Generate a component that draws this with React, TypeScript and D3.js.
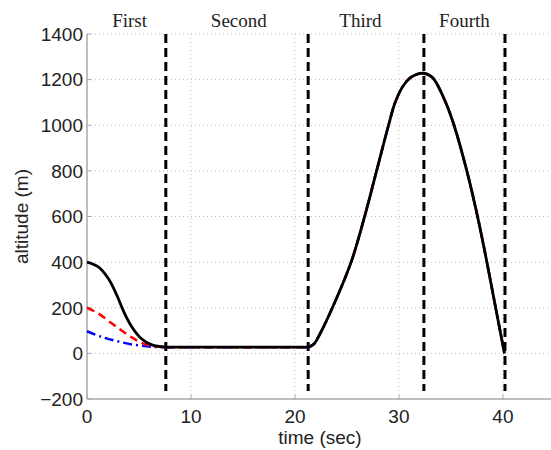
import React from "react";
import * as d3 from "d3";

const W = 551;
const H = 450;

const phaseBounds = [7.58, 21.27, 32.4, 40.2];
const phaseLabels = ["First", "Second", "Third", "Fourth"];
const phaseLabelTimes = [4.1, 14.6, 26.3, 36.3];

const xTicks = [0, 10, 20, 30, 40];
const yTicks = [-200, 0, 200, 400, 600, 800, 1000, 1200, 1400];

// time (sec), altitude (m)
const blackStart: [number, number][] = [
  [0, 400], [1.09, 379], [2.05, 328], [2.86, 256], [3.5, 186], [4.3, 117], [5.27, 63], [6.24, 37], [7.58, 27],
];
const redStart: [number, number][] = [
  [0, 200], [1.09, 175], [2.37, 132], [3.3, 101], [4.3, 70], [5.27, 46], [6.24, 32], [7.58, 27],
];
const blueStart: [number, number][] = [
  [0, 97], [1.41, 72], [3.02, 52], [4.63, 37], [6.24, 29], [7.58, 27],
];
const flat: [number, number][] = [
  [7.58, 27], [21.27, 27],
];
const riseFall: [number, number][] = [
  [21.27, 27], [21.8, 40], [22.4, 85], [23.6, 200], [25.4, 400], [26.7, 600], [27.85, 800], [29.0, 1000],
  [29.6, 1095], [30.3, 1165], [31.0, 1205], [31.7, 1223], [32.35, 1228], [33.0, 1217], [33.4, 1200],
  [34.5, 1100], [35.3, 1000], [36.53, 800], [37.56, 600], [38.46, 400], [39.3, 200], [40.15, 0],
];

export default function App() {
  const x = d3.scaleLinear().domain([0, 45]).range([87, 554.9]);
  const y = d3.scaleLinear().domain([-200, 1400]).range([399, 34]);
  const smooth = d3
    .line<[number, number]>()
    .x((d) => x(d[0]))
    .y((d) => y(d[1]))
    .curve(d3.curveCatmullRom.alpha(0.5));
  const straight = d3
    .line<[number, number]>()
    .x((d) => x(d[0]))
    .y((d) => y(d[1]));
  const pathOf = (start: [number, number][]) =>
    (smooth(start) || "") + (straight(flat) || "") + (smooth(riseFall) || "");
  const fmt = d3.format("d");
  const sans = "'Liberation Sans', Arial, sans-serif";
  const serif = "'Liberation Serif', 'Times New Roman', serif";
  const x0 = x(0);
  const yBot = y(-200);
  const yTop = y(1400);

  return (
    <svg
      width={W}
      height={H}
      style={{ position: "absolute", left: 0, top: 0, background: "#fff" }}
    >
      <rect width={W} height={H} fill="#fff" />
      {/* grid */}
      {yTicks.filter((v) => v > -200).map((v) => (
        <line key={"gy" + v} x1={x0} x2={W} y1={y(v)} y2={y(v)} stroke="#bdbdbd" strokeWidth={1} strokeDasharray="1,3" />
      ))}
      {xTicks.filter((v) => v > 0).map((v) => (
        <line key={"gx" + v} x1={x(v)} x2={x(v)} y1={yTop} y2={yBot} stroke="#bdbdbd" strokeWidth={1} strokeDasharray="1,3" />
      ))}
      {/* axes */}
      <line x1={x0} x2={x0} y1={yTop} y2={yBot} stroke="#a8a8a8" strokeWidth={1.5} />
      <line x1={x0} x2={W} y1={yBot} y2={yBot} stroke="#a8a8a8" strokeWidth={1.5} />
      {yTicks.map((v) => (
        <line key={"ty" + v} x1={x0} x2={x0 + 4} y1={y(v)} y2={y(v)} stroke="#a8a8a8" strokeWidth={1} />
      ))}
      {xTicks.map((v) => (
        <line key={"tx" + v} x1={x(v)} x2={x(v)} y1={yBot} y2={yBot - 4} stroke="#a8a8a8" strokeWidth={1} />
      ))}
      {/* tick labels */}
      {yTicks.map((v) => (
        <text key={"ly" + v} x={x0 - 4} y={y(v)} dy="0.36em" textAnchor="end" fontFamily={sans} fontSize={19} fill="#222">
          {fmt(v)}
        </text>
      ))}
      {xTicks.map((v) => (
        <text key={"lx" + v} x={x(v)} y={423} textAnchor="middle" fontFamily={sans} fontSize={19} fill="#222">
          {fmt(v)}
        </text>
      ))}
      <text x={320} y={444} textAnchor="middle" fontFamily={sans} fontSize={19} fill="#222">
        time (sec)
      </text>
      <text
        transform={`translate(28,${(yTop + yBot) / 2}) rotate(-90)`}
        textAnchor="middle"
        fontFamily={sans}
        fontSize={19}
        fill="#222"
      >
        altitude (m)
      </text>
      {/* phase boundaries */}
      {phaseBounds.map((t) => (
        <line key={"pb" + t} x1={x(t)} x2={x(t)} y1={y(1400)} y2={y(-165)} stroke="#000" strokeWidth={3} strokeDasharray="9,5" />
      ))}
      {phaseLabels.map((s, i) => (
        <text key={s} x={x(phaseLabelTimes[i])} y={27} textAnchor="middle" fontFamily={serif} fontSize={19} fill="#222">
          {s}
        </text>
      ))}
      {/* series */}
      <path d={pathOf(blueStart)} fill="none" stroke="#0000ff" strokeWidth={2.5} strokeDasharray="9,4,2,4" />
      <path d={pathOf(redStart)} fill="none" stroke="#ff0000" strokeWidth={2.5} strokeDasharray="8,5" />
      <path d={pathOf(blackStart)} fill="none" stroke="#000" strokeWidth={2.8} />
    </svg>
  );
}
